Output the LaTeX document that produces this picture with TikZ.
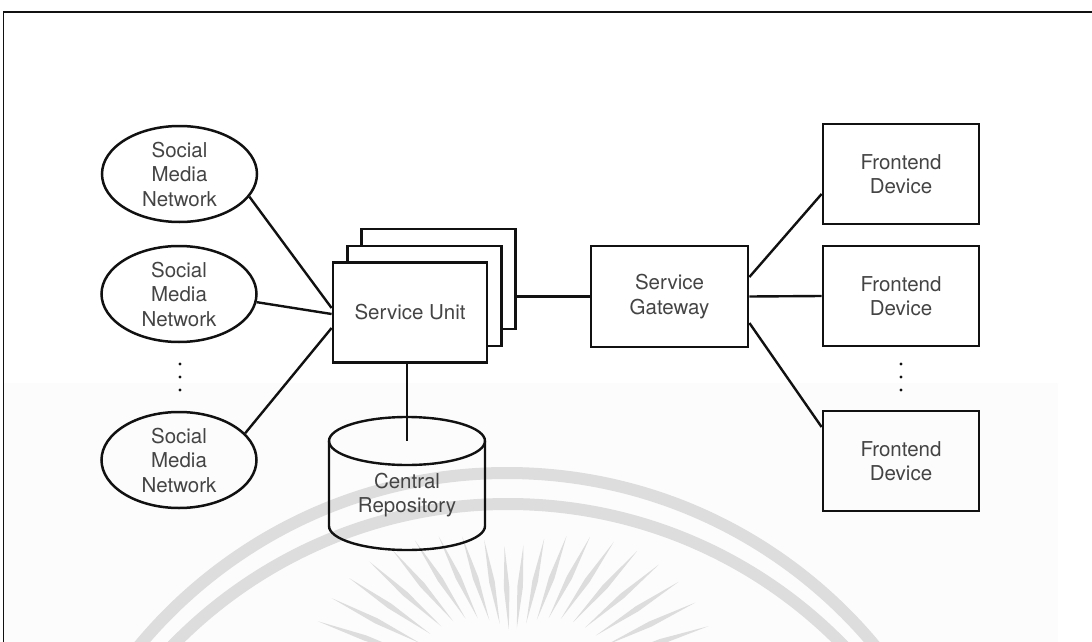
\documentclass[tikz,border=0pt]{standalone}
\usepackage{fontspec}
\setmainfont{TeX Gyre Heros}
\usetikzlibrary{shapes.geometric,calc}
\definecolor{ink}{HTML}{111111}
\definecolor{txt}{HTML}{444444}
\definecolor{seal}{HTML}{DDDDDD}
\definecolor{tint}{HTML}{FCFCFC}
\begin{document}
\begin{tikzpicture}[x=1pt,y=1pt,
  every node/.style={font=\fontsize{20.5}{24.5}\selectfont, text=txt, align=center, inner sep=0pt},
  net/.style={ellipse, draw=ink, line width=2.5pt, minimum width=155pt, minimum height=96pt},
  unit/.style={rectangle, draw=ink, line width=2.8pt, fill=white, minimum width=154pt, minimum height=100pt},
  box/.style={rectangle, draw=ink, line width=2.8pt, minimum width=156pt, minimum height=100pt},
  link/.style={draw=ink, line width=2.4pt},
  frame/.style={draw=ink, line width=1.8pt},
  sealband/.style={draw=seal, line width=12pt},
]
\useasboundingbox (0,0) rectangle (1092,-642);
\clip (0,0) rectangle (1092,-642);

% faint background tint and seal watermark
\fill[tint] (4,-383) rectangle (1058,-642);
\draw[sealband] (507,-951) circle (478);
\draw[sealband] (508,-972) circle (468);
\coordinate (sun) at (512,-690);
\foreach \a in {18,25.5,...,162} {
  \pgfmathsetmacro\ro{140+70*abs(cos(\a))}
  \pgfmathsetmacro\ri{58+50*abs(cos(\a))}
  \pgfmathsetmacro\rm{0.5*(\ro+\ri)}
  \fill[seal] ($(sun)+(\a:\ri)$) -- ($(sun)+(\a:\rm)+(\a+90:2.8)$)
    -- ($(sun)+(\a:\ro)$) -- ($(sun)+(\a:\rm)+(\a-90:2.8)$) -- cycle;
}

% frame
\draw[frame] (3.5,-642) -- (3.5,-12) -- (1092,-12);

% social media networks
\node[net, label={center:Social\\Media\\Network}] (e1) at (179.5,-174) {};
\node[net, label={center:Social\\Media\\Network}] (e2) at (179,-294) {};
\node[net, label={center:Social\\Media\\Network}] (e3) at (179,-460) {};
\foreach \y in {364,377,390} {
  \fill[ink] (180,-\y) circle (1.6);
  \fill[ink] (901,-\y) circle (1.6);
}

% stacked service units
\node[unit] (su3) at (438.5,-279) {};
\node[unit] (su2) at (424.5,-296) {};
\node[unit] (su) at (410,-312.5) {Service Unit};

% gateway and frontend devices
\node[box, minimum width=157pt, minimum height=101pt] (gw) at (669.5,-296.5) {Service\\Gateway};
\node[box] (fe1) at (901,-174) {Frontend\\Device};
\node[box] (fe2) at (901,-296) {Frontend\\Device};
\node[box] (fe3) at (901,-461) {Frontend\\Device};

% central repository (cylinder)
\coordinate (repotop) at (407,-441);
\node (repo) at (407,-495) {Central\\Repository};
\draw[link] (repotop) ellipse [x radius=78, y radius=24];
\draw[link] ($(repotop)+(-78,0)$) -- ++(0,-85)
  arc[start angle=180, end angle=360, x radius=78, y radius=24]
  -- ($(repotop)+(78,0)$);

% connectors
\draw[link] (e1.-18) -- ($(su.west)+(0,4.5)$);
\draw[link] (e2.-6) -- ($(su.west)+(0,-1.5)$);
\draw[link] (e3.22) -- ($(su.west)+(0,-15.5)$);
\draw[link] (su3.east |- gw.west) -- (gw.west);
\draw[link] ($(gw.east)+(0,19.5)$) -- ($(fe1.west)+(0,-20)$);
\draw[link] (gw.east) -- (fe2.west);
\draw[link] ($(gw.east)+(0,-26.5)$) -- ($(fe3.west)+(0,34)$);
\draw[link] (su.south -| repotop) -- (repotop);
\end{tikzpicture}
\end{document}
